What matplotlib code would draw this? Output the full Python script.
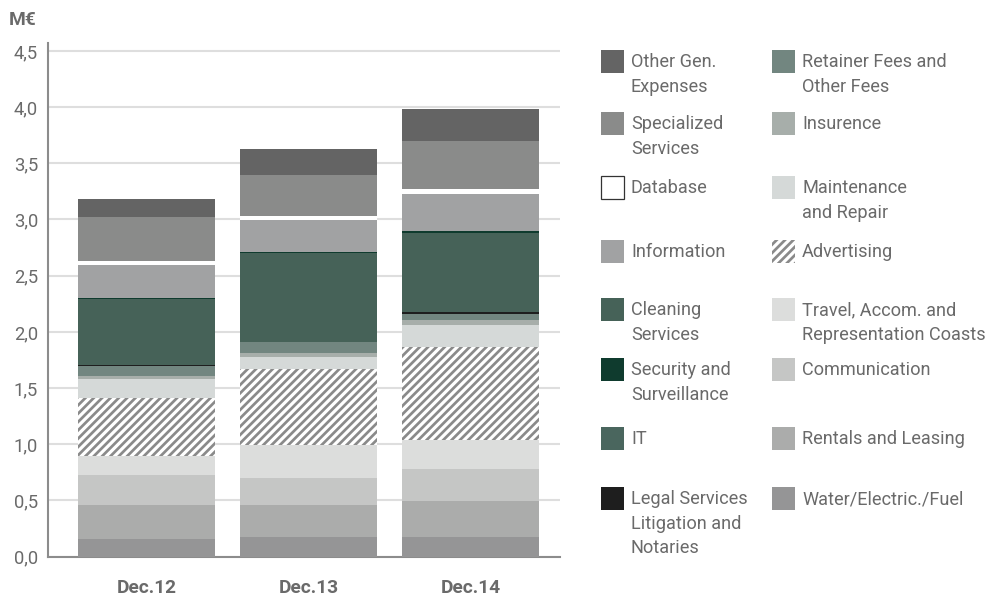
import matplotlib.pyplot as plt
import matplotlib.patches as mpatches
import numpy as np

plt.rcParams['font.family'] = ['Roboto', 'DejaVu Sans']
plt.rcParams['hatch.linewidth'] = 1.3

years = ["Dec.12", "Dec.13", "Dec.14"]

# values in M€, bottom of the stack first
water = [0.157, 0.178, 0.178]
rentals = [0.303, 0.282, 0.320]
communication = [0.267, 0.243, 0.285]
travel = [0.169, 0.291, 0.255]
advertising = [0.519, 0.673, 0.830]
maintenance = [0.166, 0.107, 0.193]
insurance = [0.029, 0.041, 0.045]
retainer = [0.087, 0.095, 0.056]
it = [0.0, 0.0, 0.0]
legal = [0.008, 0.003, 0.018]
cleaning = [0.585, 0.787, 0.703]
security = [0.010, 0.012, 0.015]
information = [0.295, 0.280, 0.329]
database = [0.039, 0.041, 0.044]
specialized = [0.391, 0.365, 0.427]
other_gen = [0.155, 0.231, 0.285]

series = [
    ("Water/Electric./Fuel", water, "#959596"),
    ("Rentals and Leasing", rentals, "#abacab"),
    ("Communication", communication, "#c5c6c5"),
    ("Travel, Accom. and\nRepresentation Coasts", travel, "#dcdddc"),
    ("Advertising", advertising, "hatch"),
    ("Maintenance\nand Repair", maintenance, "#d5d9d8"),
    ("Insurence", insurance, "#a7aeaa"),
    ("Retainer Fees and\nOther Fees", retainer, "#728680"),
    ("IT", it, "#4a665e"),
    ("Legal Services\nLitigation and\nNotaries", legal, "#1e1e1e"),
    ("Cleaning\nServices", cleaning, "#466258"),
    ("Security and\nSurveillance", security, "#0f3b2e"),
    ("Information", information, "#a1a2a3"),
    ("Database", database, "#ffffff"),
    ("Specialized\nServices", specialized, "#8a8b8a"),
    ("Other Gen.\nExpenses", other_gen, "#646464"),
]

txt = "#6a6a6a"
HATCH = "//////"
W, H, DPI = 987, 597, 150
fig = plt.figure(figsize=(W / DPI, H / DPI), dpi=DPI)
ax = fig.add_axes([48 / W, 1 - 556.7 / H, (560 - 48) / W, (556.7 - 43) / H])

x = np.arange(len(years))
bottom = np.zeros(len(years))
colors = {}
for name, vals, col in series:
    vals = np.array(vals)
    if col == "hatch":
        ax.bar(x, vals, 0.846, bottom=bottom, color="white", edgecolor="#8a8a8a",
               hatch=HATCH, linewidth=0, zorder=3)
    else:
        ax.bar(x, vals, 0.846, bottom=bottom, color=col, linewidth=0, zorder=3)
    colors[name] = col
    bottom += vals

ax.set_xlim(-0.608, 2.55)
ax.set_ylim(0, 4.57)
yt = np.arange(0, 4.51, 0.5)
ax.set_yticks(yt)
ax.set_yticklabels([f"{v:.1f}".replace(".", ",") for v in yt])
ax.set_xticks(x)
ax.set_xticklabels(years, fontweight="bold")
ax.tick_params(axis="y", length=0, pad=4.8, labelsize=8.8, labelcolor=txt)
ax.tick_params(axis="x", length=0, pad=10.5, labelsize=9.2, labelcolor=txt)
ax.grid(axis="y", color="#dedede", linewidth=1.0, zorder=0)
ax.set_axisbelow(True)
for s in ["top", "right"]:
    ax.spines[s].set_visible(False)
for s in ["left", "bottom"]:
    ax.spines[s].set_color("#8c8c8c")
    ax.spines[s].set_linewidth(1.0)

fig.text(9 / W, 1 - 20 / H, "M€", fontsize=9.2, fontweight="bold", color=txt, va="center")

# legend: two columns laid out like the reference
left_col = ["Other Gen.\nExpenses", "Specialized\nServices", "Database", "Information",
            "Cleaning\nServices", "Security and\nSurveillance", "IT",
            "Legal Services\nLitigation and\nNotaries"]
right_col = ["Retainer Fees and\nOther Fees", "Insurence", "Maintenance\nand Repair",
             "Advertising", "Travel, Accom. and\nRepresentation Coasts", "Communication",
             "Rentals and Leasing", "Water/Electric./Fuel"]
row_tops = [50, 112, 176, 240, 298, 358, 427, 487]
box = 23
for col_names, px, tx in [(left_col, 601, 631), (right_col, 772, 802)]:
    for name, top in zip(col_names, row_tops):
        c = colors[name]
        fx, fy = px / W, 1 - (top + box) / H
        if c == "hatch":
            p = mpatches.Rectangle((fx, fy), box / W, box / H, transform=fig.transFigure,
                                   facecolor="white", edgecolor="#8a8a8a", hatch=HATCH, linewidth=0)
        elif name == "Database":
            p = mpatches.Rectangle((fx, fy), box / W, box / H, transform=fig.transFigure,
                                   facecolor="white", edgecolor="#333333", linewidth=0.6)
        else:
            p = mpatches.Rectangle((fx, fy), box / W, box / H, transform=fig.transFigure,
                                   facecolor=c, linewidth=0)
        fig.patches.append(p)
        fig.text(tx / W, 1 - (top + 3) / H, name, fontsize=8.7, color=txt, va="top",
                 linespacing=1.48)

fig.savefig("out.png", dpi=DPI)
